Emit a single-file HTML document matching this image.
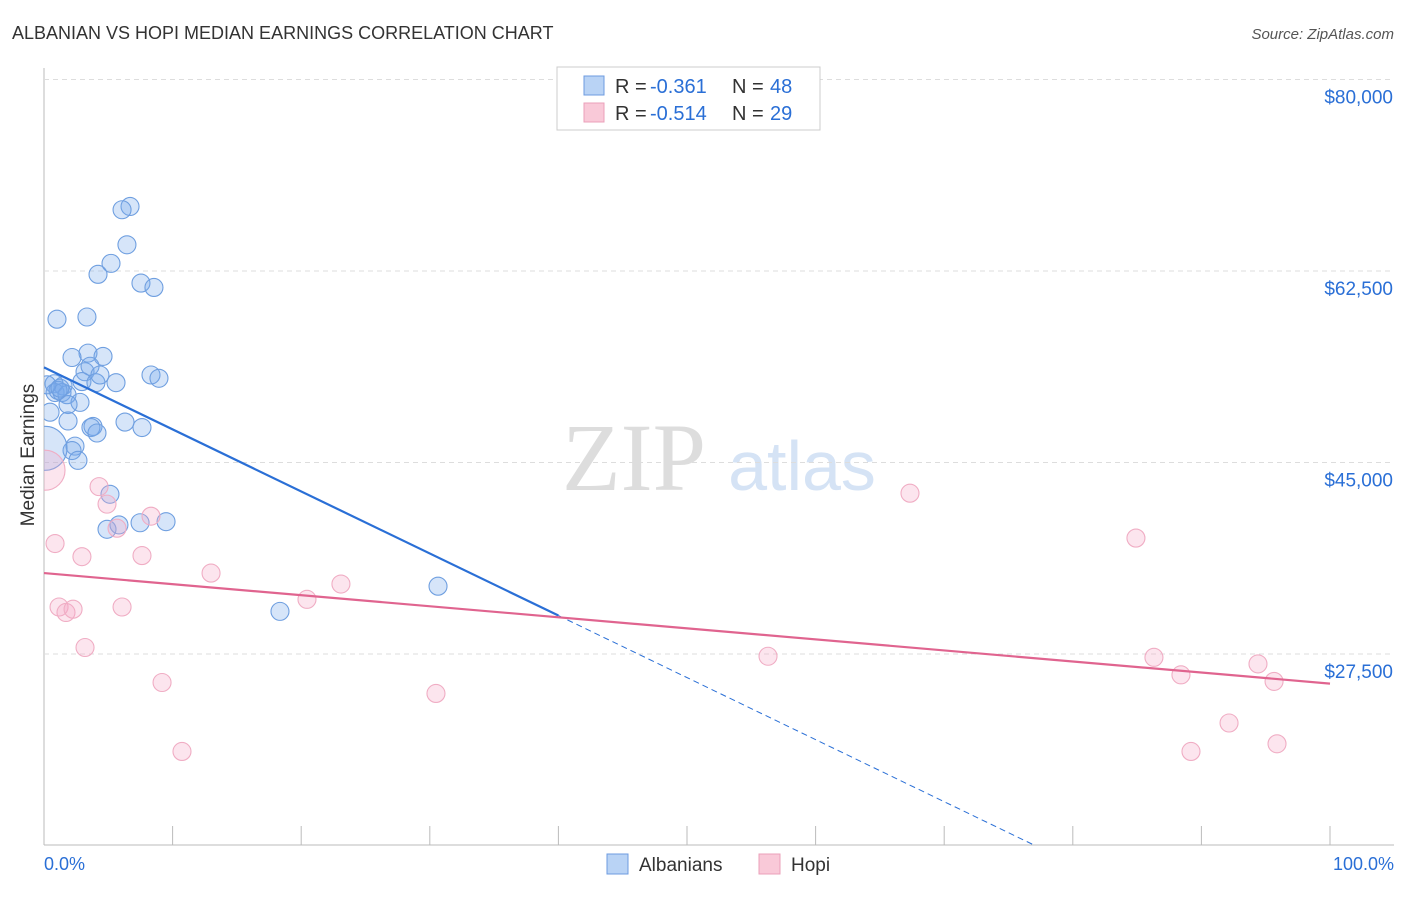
<!DOCTYPE html>
<html><head><meta charset="utf-8"><style>
body{margin:0;background:#fff;font-family:"Liberation Sans",sans-serif}
</style></head><body>
<svg id="c" width="1406" height="892" xmlns="http://www.w3.org/2000/svg">
<defs><clipPath id="pc"><rect x="44" y="60" width="1360" height="786"/></clipPath></defs>
<text x="12" y="39" font-size="18" fill="#333">ALBANIAN VS HOPI MEDIAN EARNINGS CORRELATION CHART</text>
<text x="1394" y="39" font-size="15" fill="#555" font-style="italic" text-anchor="end">Source: ZipAtlas.com</text>
<text x="634" y="490" font-size="96" fill="#ddd" font-family="Liberation Serif,serif" text-anchor="middle">ZIP</text>
<text x="802" y="490" font-size="70" fill="#d5e3f5" text-anchor="middle">atlas</text>
<text transform="translate(34,455) rotate(-90)" font-size="19" fill="#333" text-anchor="middle">Median Earnings</text>
<g id="grid"></g><g id="pts" clip-path="url(#pc)"></g><g id="lines"></g>
<g>
<rect x="557" y="67" width="263" height="63" fill="#fff" stroke="#ccc"/>
<rect x="584" y="76" width="20" height="19" fill="#b9d3f5" stroke="#6d9be0"/>
<rect x="584" y="103" width="20" height="19" fill="#f9c9d8" stroke="#eba0ba"/>
<text x="615" y="93" font-size="20" fill="#333">R =</text>
<text x="650" y="93" font-size="20" fill="#2a6fd6">-0.361</text>
<text x="732" y="93" font-size="20" fill="#333">N =</text>
<text x="770" y="93" font-size="20" fill="#2a6fd6">48</text>
<text x="615" y="120" font-size="20" fill="#333">R =</text>
<text x="650" y="120" font-size="20" fill="#2a6fd6">-0.514</text>
<text x="732" y="120" font-size="20" fill="#333">N =</text>
<text x="770" y="120" font-size="20" fill="#2a6fd6">29</text>
</g>
<rect x="607" y="854" width="21" height="20" fill="#b9d3f5" stroke="#6d9be0"/>
<text x="639" y="871" font-size="19" fill="#333">Albanians</text>
<rect x="759" y="854" width="21" height="20" fill="#f9c9d8" stroke="#eba0ba"/>
<text x="791" y="871" font-size="19" fill="#333">Hopi</text>
<text x="44" y="870" font-size="18" fill="#2a6fd6">0.0%</text>
<text x="1394" y="870" font-size="18" fill="#2a6fd6" text-anchor="end">100.0%</text>
</svg>
<script>
const yTicks=[27500,45000,62500,80000];
const yTickLabels=["$27,500","$45,000","$62,500","$80,000"];
const xTicks=[0,10,20,30,40,50,60,70,80,90,100];
const albX=[6.69,6.07,6.45,5.21,4.20,7.54,8.55,1.01,3.34,3.42,2.18,4.59,3.19,3.58,8.32,8.94,5.60,2.95,4.04,0.78,1.48,0.86,1.40,1.79,2.80,1.87,0.47,6.30,1.87,3.81,3.65,4.12,7.62,2.41,2.18,2.64,0.08,5.13,4.90,5.83,7.47,9.49,18.35,30.64,1.09,0.23,1.24,4.35];
const albY=[68.4,68.1,64.9,63.2,62.2,61.4,61.0,58.1,58.3,55.0,54.6,54.7,53.3,53.8,53.0,52.7,52.3,52.4,52.3,52.2,52.0,51.4,51.4,51.2,50.5,50.3,49.6,48.7,48.8,48.3,48.2,47.7,48.2,46.5,46.1,45.2,46.3,42.1,38.9,39.3,39.5,39.6,31.4,33.7,51.6,52.1,51.8,53.0];
const hopiX=[0.08,4.28,4.90,5.68,8.32,0.86,2.95,7.62,12.99,23.09,1.17,1.71,2.26,6.07,20.45,3.19,9.18,10.73,30.48,56.30,67.34,84.91,86.31,88.41,89.19,92.15,94.40,95.65,95.88];
const hopiY=[44.3,42.8,41.2,39.0,40.1,37.6,36.4,36.5,34.9,33.9,31.8,31.3,31.6,31.8,32.5,28.1,24.9,18.6,23.9,27.3,42.2,38.1,27.2,25.6,18.6,21.2,26.6,25.0,19.3];
const albTrend=[53.7,-0.567];
const hopiTrend=[34.9,-0.101];
const NS="http://www.w3.org/2000/svg";
const X=p=>44+p*12.86;
const Y=v=>955-v*1000/91.38;
function mk(t,a,parent){const e=document.createElementNS(NS,t);for(const k in a)e.setAttribute(k,a[k]);document.getElementById(parent).appendChild(e);return e;}
mk('line',{x1:44,y1:68,x2:44,y2:845,stroke:'#bbb'},'grid');
mk('line',{x1:44,y1:845,x2:1394,y2:845,stroke:'#bbb'},'grid');
yTicks.forEach((t,i)=>{
 const g=mk('line',{x1:44,y1:Y(t/1000),x2:1394,y2:Y(t/1000),stroke:'#ddd','stroke-dasharray':'5,4'},'grid');
 
 
 const l=mk('text',{x:1393,y:Y(t/1000)+24,'font-size':19,fill:'#2a6fd6','text-anchor':'end'},'grid');
 l.textContent=yTickLabels[i];
 
 
});
xTicks.forEach(t=>{
 const e=mk('line',{x1:X(t),y1:826,x2:X(t),y2:845,stroke:'#bbb'},'grid');
 
 
});
albX.forEach((x,i)=>{
 const big=(i==36);
 const c=mk('circle',{cx:X(x),cy:Y(albY[i]),r:big?22:9,fill:'rgba(120,168,236,0.3)',stroke:'#6f9fe0','stroke-width':1.1},'pts');
 
 
});
hopiX.forEach((x,i)=>{
 const big=(i==0);
 const c=mk('circle',{cx:X(x),cy:Y(hopiY[i]),r:big?20:9,fill:'rgba(246,170,198,0.3)',stroke:'#f0adc4','stroke-width':1.1},'pts');
 
 
});
const bt=x=>albTrend[0]+albTrend[1]*x;
const xEnd=(10.05-albTrend[0])/albTrend[1];
let l1=mk('line',{x1:X(0),y1:Y(bt(0)),x2:X(40),y2:Y(bt(40)),stroke:'#2a6fd6','stroke-width':2.2},'lines');


let l2=mk('line',{x1:X(40),y1:Y(bt(40)),x2:X(xEnd),y2:Y(bt(xEnd)),stroke:'#2a6fd6','stroke-width':1,'stroke-dasharray':'6,4'},'lines');


const ht=x=>hopiTrend[0]+hopiTrend[1]*x;
let l3=mk('line',{x1:X(0),y1:Y(ht(0)),x2:X(100),y2:Y(ht(100)),stroke:'#e0648f','stroke-width':2.2},'lines');


</script>
</body></html>
